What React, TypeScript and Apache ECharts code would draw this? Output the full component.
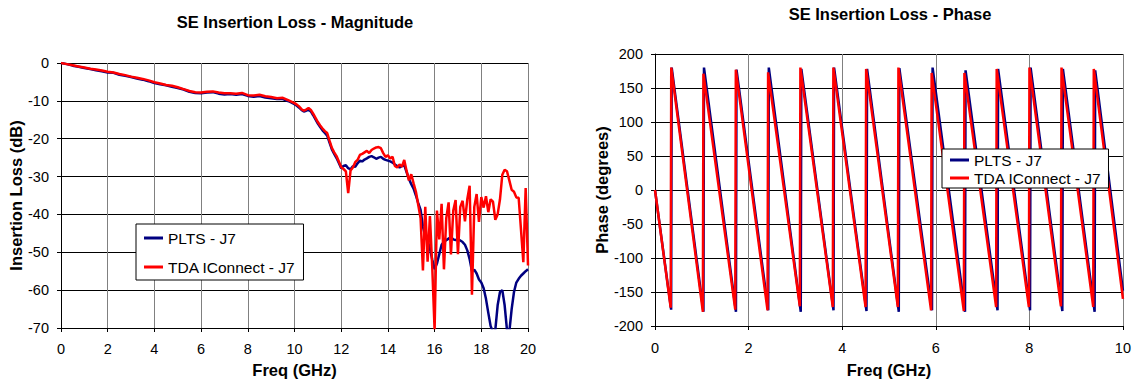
import React, { useEffect, useRef } from "react";
import * as echarts from "echarts";

const FONT = "'Liberation Sans', Arial, sans-serif";

// ---------- Magnitude chart data ----------
const magFreq = [
  0, 0.25, 0.5, 0.75, 1, 1.25, 1.5, 1.75, 2, 2.25, 2.5, 2.75, 3, 3.25, 3.5, 3.75, 4, 4.25, 4.5, 4.75,
  5, 5.25, 5.5, 5.75, 6, 6.25, 6.5, 6.75, 7, 7.25, 7.5, 7.75, 8, 8.25, 8.5, 8.75, 9, 9.25, 9.5, 9.75,
  10.0, 10.1, 10.2, 10.3, 10.4, 10.5, 10.6, 10.7, 10.8, 10.9,
  11.0, 11.1, 11.2, 11.3, 11.4, 11.5, 11.6, 11.7, 11.8, 11.9,
  12.0, 12.1, 12.2, 12.3, 12.4, 12.5, 12.6, 12.7, 12.8, 12.9,
  13.0, 13.1, 13.2, 13.3, 13.4, 13.5, 13.6, 13.7, 13.8, 13.9,
  14.0, 14.1, 14.2, 14.3, 14.4, 14.5, 14.6, 14.7, 14.8, 14.9,
  15.0, 15.1, 15.2, 15.3, 15.4, 15.5, 15.6, 15.7, 15.8, 15.9,
  16.0, 16.1, 16.2, 16.3, 16.4, 16.5, 16.6, 16.7, 16.8, 16.9,
  17.0, 17.1, 17.2, 17.3, 17.4, 17.5, 17.6, 17.7, 17.8, 17.9,
  18.0, 18.1, 18.2, 18.3, 18.4, 18.5, 18.6, 18.7, 18.8, 18.9,
  19.0, 19.1, 19.2, 19.3, 19.4, 19.5, 19.6, 19.7, 19.8, 19.9,
  20.0,
];

const magPLTS = [
  0, -0.3, -0.7, -1.0, -1.3, -1.6, -1.9, -2.2, -2.5, -2.6, -3.1, -3.4, -3.7, -4.1, -4.4, -4.8, -5.3, -5.6, -5.9, -6.3,
  -6.6, -7.0, -7.6, -7.9, -8.0, -7.8, -7.7, -8.1, -8.3, -8.2, -8.4, -8.2, -8.7, -8.9, -8.7, -9.1, -9.3, -9.5, -9.5, -10.1,
  -10.9, -11.3, -11.8, -12.4, -12.8, -12.6, -12.3, -12.8, -13.8, -14.9,
  -16.0, -16.9, -17.8, -18.5, -19.2, -21.0, -22.8, -24.0, -25.1, -26.4,
  -27.8, -27.2, -27.0, -27.8, -28.1, -27.3, -27.4, -26.5, -25.8, -26.0,
  -25.5, -25.2, -24.8, -24.6, -24.9, -25.3, -25.0, -24.8, -25.3, -25.6,
  -25.8, -26.0, -26.3, -26.8, -27.2, -27.6, -27.2, -27.0, -28.8, -30.6,
  -32.0, -33.2, -35.0, -37.0, -38.8, -43.2, -45.8, -47.0, -49.0, -52.0,
  -54.5, -53.0, -50.5, -48.0, -47.2, -46.8, -46.4, -46.0, -46.6, -46.8,
  -46.5, -46.9, -47.3, -48.0, -49.5, -51.8, -55.0, -54.6, -55.6, -57.2,
  -58.0, -59.5, -62.3, -66.0, -69.5, -71.0, -70.5, -64.0, -60.5, -60.0,
  -64.0, -70.5, -71.0, -65.0, -60.5, -58.0, -57.0, -56.2, -55.6, -55.0,
  -54.5,
];

const magTDA = [
  0, -0.3, -0.6, -0.9, -1.2, -1.5, -1.7, -2.0, -2.3, -2.5, -2.9, -3.2, -3.6, -3.9, -4.2, -4.6, -5.1, -5.4, -5.8, -6.0,
  -6.4, -6.9, -7.4, -7.7, -7.8, -7.6, -7.5, -7.8, -8.0, -8.0, -8.1, -7.9, -8.5, -8.6, -8.4, -8.8, -9.0, -9.3, -9.2, -9.9,
  -10.6, -11.0, -11.5, -12.2, -12.6, -12.3, -11.9, -12.4, -13.4, -14.5,
  -15.6, -16.5, -17.3, -18.0, -18.5, -20.5, -22.4, -23.6, -24.6, -26.0,
  -27.5, -28.0, -28.6, -34.4, -28.4, -27.6, -26.2, -25.6, -24.3, -24.0,
  -23.6, -23.2, -23.8, -23.0, -22.6, -22.3, -22.2, -22.5, -23.8, -24.8,
  -24.4, -25.2, -24.8, -27.2, -27.6, -26.8, -27.4, -25.6, -28.5, -31.0,
  -29.4, -31.8, -34.0, -37.5, -41.0, -54.8, -38.0, -52.5, -40.4, -54.0,
  -70.5, -39.0, -46.6, -37.2, -54.5, -41.0, -36.8, -50.6, -39.0, -36.2,
  -50.5, -38.0, -36.4, -41.8, -36.0, -32.4, -61.2, -38.0, -34.6, -42.0,
  -35.4, -38.2, -35.2, -39.4, -36.0, -36.6, -41.4, -40.0, -36.0, -29.5,
  -28.2, -28.6, -31.0, -33.5, -34.0, -35.5, -35.6, -44.0, -52.6, -33.0,
  -53.5,
];

// ---------- Phase chart data (sawtooth vertices) ----------
const phaseFreqTDA = [
  0, 0.335, 0.347, 1.023, 1.035, 1.715, 1.727, 2.405, 2.417, 3.095, 3.107, 3.8, 3.812, 4.5, 4.512,
  5.19, 5.202, 5.9, 5.912, 6.6, 6.612, 7.29, 7.302, 7.99, 8.002, 8.675, 8.687, 9.365, 9.377, 10,
];
const phaseTDA = [
  0, -173, 180, -179, 171, -176, 177, -177, 173, -171, 180, -172, 180, -172, 178,
  -172, 180, -177, 172, -178, 172, -172, 178, -172, 180, -171, 180, -172, 178, -160,
];
const phaseFreqPLTS = [
  0, 0.345, 0.357, 1.035, 1.047, 1.73, 1.742, 2.42, 2.432, 3.115, 3.127, 3.815, 3.827, 4.52, 4.532,
  5.21, 5.222, 5.92, 5.932, 6.625, 6.637, 7.32, 7.332, 8.015, 8.027, 8.705, 8.717, 9.395, 9.407, 10,
];
const phasePLTS = [
  0, -176, 180, -179, 180, -179, 177, -177, 180, -179, 178, -177, 180, -178, 178,
  -179, 179, -177, 180, -179, 176, -177, 178, -177, 180, -178, 178, -179, 176, -148,
];

const SERIES_NAMES = ["PLTS - J7", "TDA IConnect - J7"];
const COLORS = ["#000080", "#ff0000"];

const zip = (xs: number[], ys: number[]) => xs.map((x, i) => [x, ys[i]]);

export default function App() {
  const ref = useRef<HTMLDivElement>(null);

  useEffect(() => {
    if (!ref.current) return;
    const chart = echarts.init(ref.current, null, { renderer: "svg" });

    const tickLabel = { color: "#000", fontSize: 14.5, fontFamily: FONT };
    const axisNameStyle = { color: "#000", fontSize: 16.5, fontWeight: "bold" as const, fontFamily: FONT };
    const hSplit = { show: true, lineStyle: { color: "#000", width: 1 } };
    const vSplit = { show: true, lineStyle: { color: "#808080", width: 1 } };
    const axisLine = { show: true, onZero: false, lineStyle: { color: "#000", width: 1 } };
    const axisTick = { show: true, length: 4, inside: false, lineStyle: { color: "#000" } };

    const legendBase = {
      orient: "vertical" as const,
      data: SERIES_NAMES,
      backgroundColor: "#fff",
      borderColor: "#000",
      borderWidth: 1,
      borderRadius: 0,
      itemWidth: 19,
      itemHeight: 3,
      icon: "rect",
      selectedMode: false,
      textStyle: { color: "#000", fontSize: 15.5, fontFamily: FONT, lineHeight: 16 },
    };

    const titleStyle = { color: "#000", fontSize: 16.5, fontWeight: "bold" as const, fontFamily: FONT };

    chart.setOption({
      animation: false,
      backgroundColor: "#fff",
      title: [
        {
          text: "SE Insertion Loss - Magnitude",
          left: 295,
          top: 13,
          textAlign: "center",
          padding: 0,
          textStyle: titleStyle,
        },
        {
          text: "SE Insertion Loss - Phase",
          left: 890,
          top: 5,
          textAlign: "center",
          padding: 0,
          textStyle: titleStyle,
        },
      ],
      legend: [
        { ...legendBase, left: 136, top: 224, padding: [6, 8, 5, 8], itemGap: 13 },
        { ...legendBase, left: 942, top: 149, padding: [3, 7, 2, 8], itemGap: 2 },
      ],
      grid: [
        { left: 61, top: 63, width: 467, height: 269 },
        { left: 655, top: 54, width: 470, height: 276 },
      ],
      xAxis: [
        {
          type: "value",
          gridIndex: 0,
          min: 0,
          max: 20,
          interval: 2,
          name: "Freq (GHz)",
          nameLocation: "middle",
          nameGap: 33,
          nameTextStyle: axisNameStyle,
          axisLine,
          axisTick,
          axisLabel: { ...tickLabel, margin: 13 },
          splitLine: vSplit,
        },
        {
          type: "value",
          gridIndex: 1,
          min: 0,
          max: 10,
          interval: 2,
          name: "Freq (GHz)",
          nameLocation: "middle",
          nameGap: 35,
          nameTextStyle: axisNameStyle,
          axisLine,
          axisTick,
          axisLabel: { ...tickLabel, margin: 14 },
          splitLine: vSplit,
        },
      ],
      yAxis: [
        {
          type: "value",
          gridIndex: 0,
          min: -70,
          max: 0,
          interval: 10,
          name: "Insertion Loss (dB)",
          nameLocation: "middle",
          nameGap: 35,
          nameRotate: 90,
          nameTextStyle: axisNameStyle,
          axisLine,
          axisTick,
          axisLabel: { ...tickLabel, margin: 12 },
          splitLine: hSplit,
        },
        {
          type: "value",
          gridIndex: 1,
          min: -200,
          max: 200,
          interval: 50,
          name: "Phase (degrees)",
          nameLocation: "middle",
          nameGap: 45,
          nameRotate: 90,
          nameTextStyle: axisNameStyle,
          axisLine,
          axisTick,
          axisLabel: { ...tickLabel, margin: 12 },
          splitLine: hSplit,
        },
      ],
      series: [
        {
          name: SERIES_NAMES[0],
          type: "line",
          xAxisIndex: 0,
          yAxisIndex: 0,
          data: zip(magFreq, magPLTS),
          showSymbol: false,
          color: COLORS[0],
          lineStyle: { color: COLORS[0], width: 2.5 },
          clip: true,
        },
        {
          name: SERIES_NAMES[1],
          type: "line",
          xAxisIndex: 0,
          yAxisIndex: 0,
          data: zip(magFreq, magTDA),
          showSymbol: false,
          color: COLORS[1],
          lineStyle: { color: COLORS[1], width: 2.5 },
          clip: true,
        },
        {
          name: SERIES_NAMES[0],
          type: "line",
          xAxisIndex: 1,
          yAxisIndex: 1,
          data: zip(phaseFreqPLTS, phasePLTS),
          showSymbol: false,
          color: COLORS[0],
          lineStyle: { color: COLORS[0], width: 2.5 },
          clip: true,
        },
        {
          name: SERIES_NAMES[1],
          type: "line",
          xAxisIndex: 1,
          yAxisIndex: 1,
          data: zip(phaseFreqTDA, phaseTDA),
          showSymbol: false,
          color: COLORS[1],
          lineStyle: { color: COLORS[1], width: 2.5 },
          clip: true,
        },
      ],
    });

    return () => chart.dispose();
  }, []);

  return (
    <div
      ref={ref}
      style={{ position: "fixed", left: 0, top: 0, width: 1134, height: 383, background: "#fff" }}
    />
  );
}
